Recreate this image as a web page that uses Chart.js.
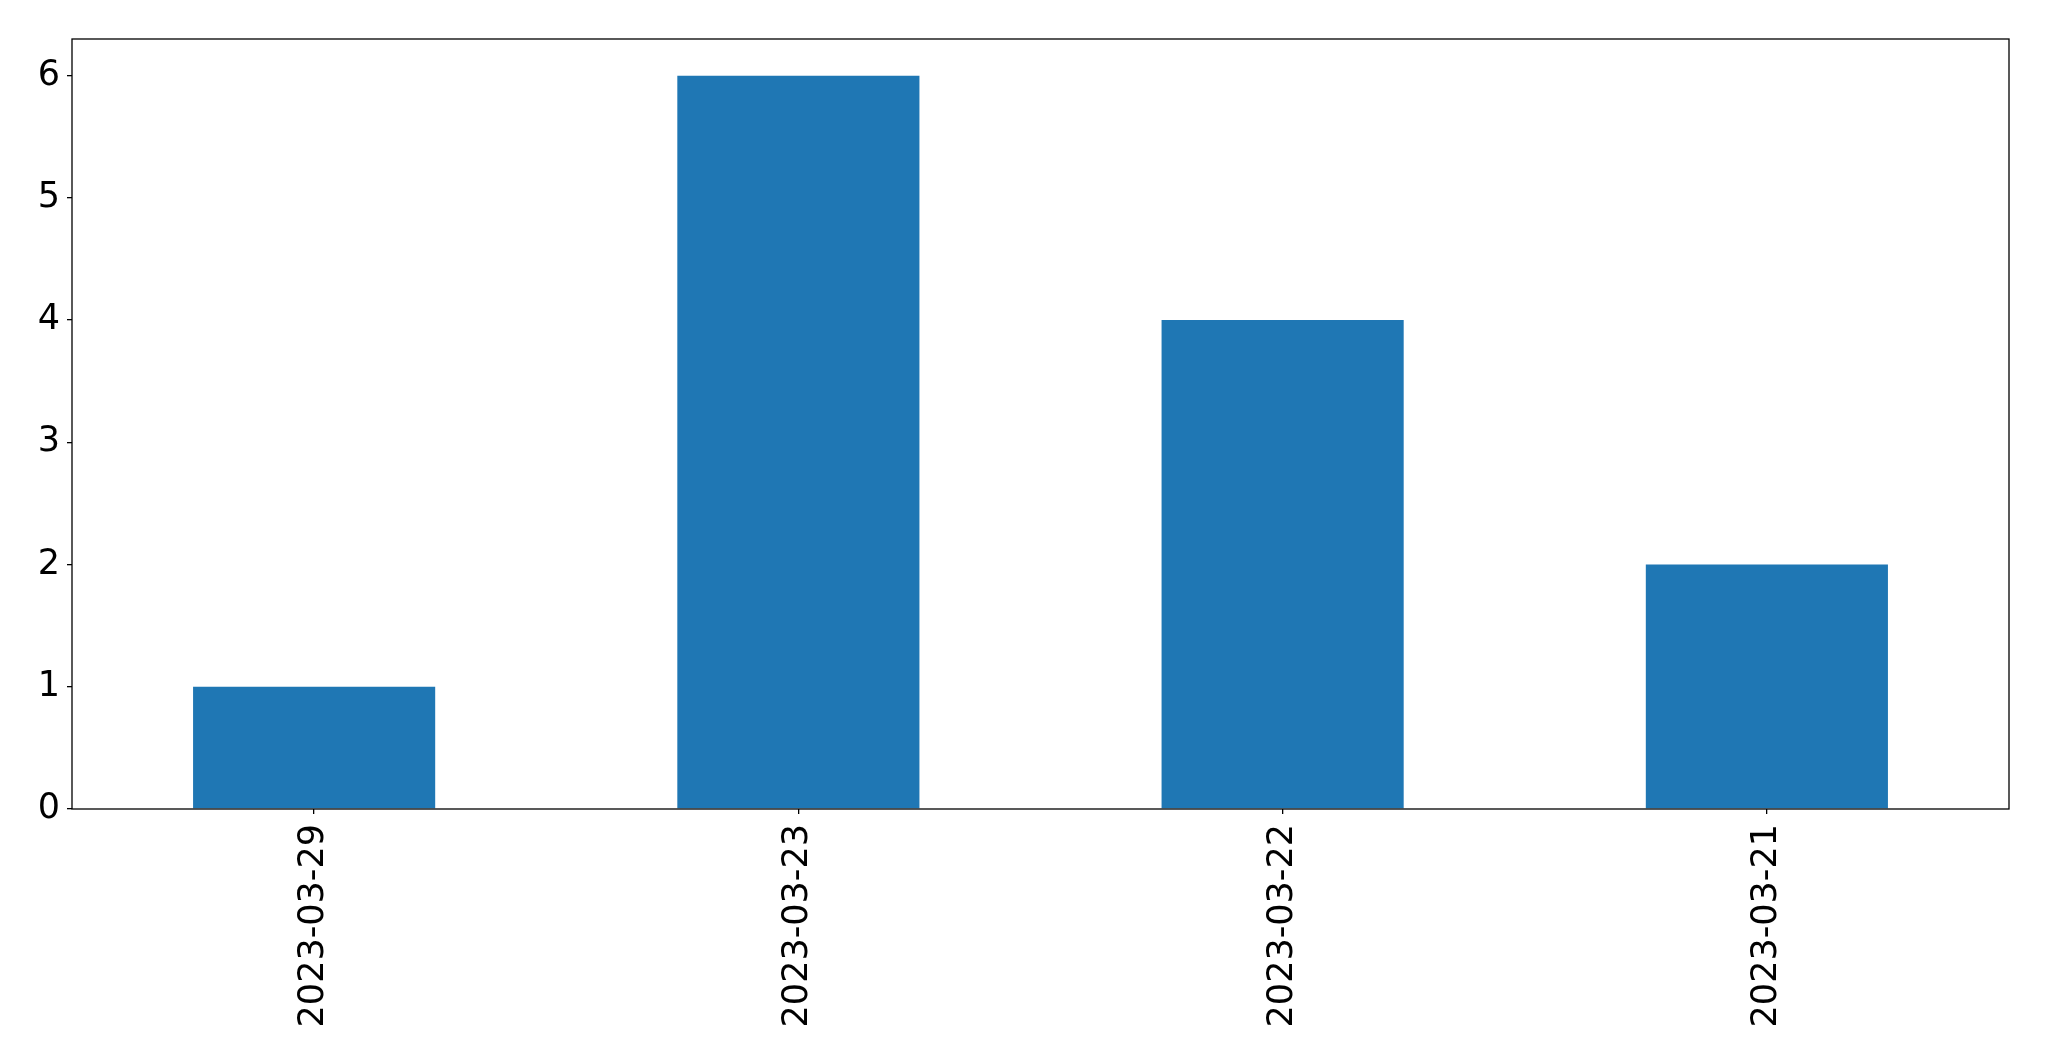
<!DOCTYPE html>
<html>
<head>
<meta charset="utf-8">
<script src="https://cdn.jsdelivr.net/npm/chart.js@4/dist/chart.umd.min.js"></script>
<style>
  html, body { margin: 0; padding: 0; background: #fff; }
  canvas { display: block; }
</style>
</head>
<body>
<canvas id="dayChart" width="2049" height="1061"></canvas>
<script>
  // values
  const days = ['2023-03-29', '2023-03-23', '2023-03-22', '2023-03-21'];
  const counts = [1, 6, 4, 2];
  const yTicks = [0, 1, 2, 3, 4, 5, 6];

  const tickFont = { family: 'DejaVu Sans', size: 35 };

  // matplotlib style box round the plot area
  const frame = {
    id: 'frame',
    afterDraw(chart) {
      const a = chart.chartArea;
      const ctx = chart.ctx;
      ctx.save();
      ctx.strokeStyle = '#000';
      ctx.lineWidth = 1.3;
      ctx.strokeRect(a.left, a.top, a.right - a.left, a.bottom - a.top);
      ctx.restore();
    }
  };

  new Chart(document.getElementById('dayChart').getContext('2d'), {
    type: 'bar',
    data: {
      labels: days,
      datasets: [{
        data: counts,
        backgroundColor: '#1f77b4',
        borderWidth: 0,
        barPercentage: 0.5,
        categoryPercentage: 1
      }]
    },
    options: {
      responsive: false,
      animation: false,
      devicePixelRatio: 1,
      layout: { padding: { top: 39, right: 40, left: 0, bottom: 0 } },
      plugins: { legend: { display: false }, tooltip: { enabled: false } },
      scales: {
        x: {
          offset: true,
          grid: { display: true, drawOnChartArea: false, tickLength: 5, tickColor: '#000', lineWidth: 1.3, offset: false },
          border: { display: false },
          ticks: { color: '#000', font: tickFont, minRotation: 90, maxRotation: 90, padding: 10, autoSkip: false },
          afterFit(scale) { scale.height = 252; }
        },
        y: {
          min: 0,
          max: 6.3,
          grid: { display: true, drawOnChartArea: false, tickLength: 5, tickColor: '#000', lineWidth: 1.3 },
          border: { display: false },
          ticks: { color: '#000', font: tickFont, padding: 7 },
          afterBuildTicks(scale) { scale.ticks = yTicks.map(v => ({ value: v })); },
          afterFit(scale) { scale.width = 72; }
        }
      }
    },
    plugins: [frame]
  });
</script>
</body>
</html>
